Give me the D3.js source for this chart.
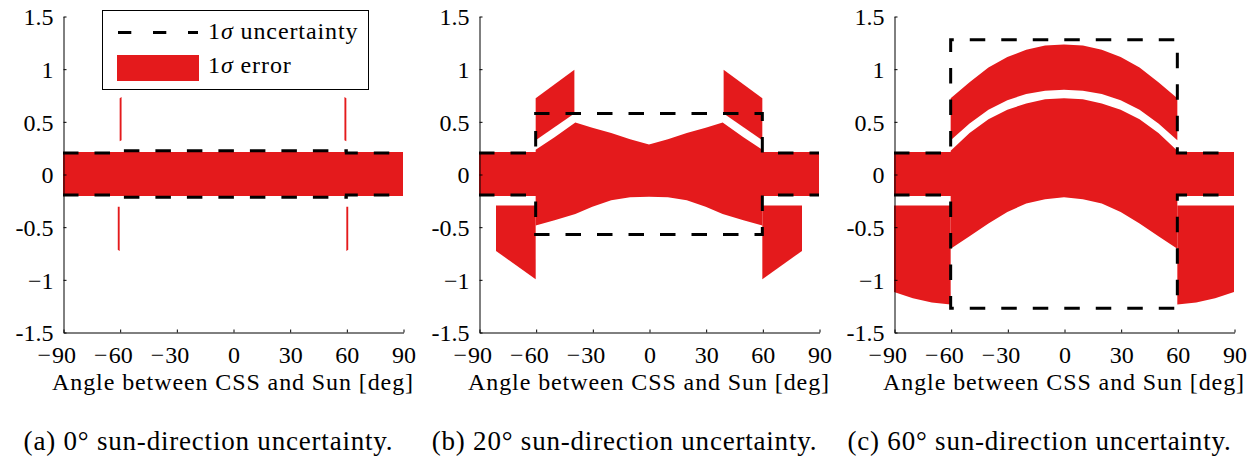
<!DOCTYPE html>
<html><head><meta charset="utf-8">
<script src="https://cdn.jsdelivr.net/npm/d3@7"></script>
</head><body style="margin:0;background:#fff">
<svg id="chart" width="1255" height="457" style="display:block;background:#fff"></svg>
<script>
const FONT = "Liberation Serif";
// ---------- shared ticks / texts ----------
const xTicks = [-90, -60, -30, 0, 30, 60, 90];
const yTicks = [-1.5, -1, -0.5, 0, 0.5, 1, 1.5];
const yTickLabels = ["-1.5", "\u22121", "-0.5", "0", "0.5", "1", "1.5"];
const xTitle = "Angle between CSS and Sun [deg]";
const captions = ["(a) 0\u00B0 sun-direction uncertainty.",
                  "(b) 20\u00B0 sun-direction uncertainty.",
                  "(c) 60\u00B0 sun-direction uncertainty."];
const legendLabels = [" uncertainty", " error"];

// ---------- panel (a): 0 deg ----------
const aUncX  = [-90, -60, -60, 60, 60, 90];
const aUncUp = [0.2, 0.2, 0.22, 0.22, 0.2, 0.2];
const aUncDn = [-0.2, -0.2, -0.22, -0.22, -0.2, -0.2];
const aCoreX  = [-90, 90];
const aCoreHi = [0.21, 0.21];
const aCoreLo = [-0.21, -0.21];
const aUpLX = [-60, -59], aUpLHi = [0.72, 0.73], aUpLLo = [0.31, 0.32];
const aUpRX = [59, 60],   aUpRHi = [0.73, 0.72], aUpRLo = [0.32, 0.31];
const aDnLX = [-61, -60], aDnLHi = [-0.31, -0.31], aDnLLo = [-0.72, -0.73];
const aDnRX = [60, 61],   aDnRHi = [-0.31, -0.31], aDnRLo = [-0.73, -0.72];

// ---------- panel (b): 20 deg ----------
const bUncX  = [-90, -60, -60, 60, 60, 90];
const bUncUp = [0.2, 0.2, 0.575, 0.575, 0.2, 0.2];
const bUncDn = [-0.2, -0.2, -0.575, -0.575, -0.2, -0.2];
const bCoreX  = [-90, -60, -60, -50, -39, -30, -20, -10, 0, 10, 20, 30, 39, 50, 60, 60, 90];
const bCoreHi = [0.21, 0.21, 0.23, 0.35, 0.49, 0.44, 0.39, 0.33, 0.28, 0.33, 0.39, 0.44, 0.49, 0.35, 0.23, 0.21, 0.21];
const bCoreLo = [-0.21, -0.21, -0.49, -0.44, -0.38, -0.31, -0.25, -0.22, -0.215, -0.22, -0.25, -0.31, -0.38, -0.44, -0.49, -0.21, -0.21];
const bUpLX = [-60, -39.5], bUpLHi = [0.72, 0.99], bUpLLo = [0.32, 0.575];
const bUpRX = [39.5, 60],   bUpRHi = [0.99, 0.72], bUpRLo = [0.575, 0.32];
const bDnLX = [-81, -60], bDnLHi = [-0.30, -0.30], bDnLLo = [-0.73, -1.0];
const bDnRX = [60, 81],   bDnRHi = [-0.30, -0.30], bDnRLo = [-1.0, -0.73];

// ---------- panel (c): 60 deg ----------
const cUncX  = [-90, -60, -60, 60, 60, 90];
const cUncUp = [0.2, 0.2, 1.275, 1.275, 0.2, 0.2];
const cUncDn = [-0.2, -0.2, -1.275, -1.275, -0.2, -0.2];
const cCoreX  = [-90, -60, -60, -50, -40, -30, -20, -10, 0, 10, 20, 30, 40, 50, 60, 60, 90];
const cCoreHi = [0.21, 0.21, 0.22, 0.39, 0.52, 0.61, 0.67, 0.71, 0.72, 0.71, 0.67, 0.61, 0.52, 0.39, 0.22, 0.21, 0.21];
const cCoreLo = [-0.21, -0.21, -0.71, -0.59, -0.47, -0.36, -0.28, -0.24, -0.22, -0.24, -0.28, -0.36, -0.47, -0.59, -0.71, -0.21, -0.21];
const cUpX  = [-60, -50, -40, -30, -20, -10, 0, 10, 20, 30, 40, 50, 60];
const cUpHi = [0.72, 0.87, 1.01, 1.11, 1.18, 1.22, 1.23, 1.22, 1.18, 1.11, 1.01, 0.87, 0.72];
const cUpLo = [0.32, 0.48, 0.61, 0.70, 0.76, 0.79, 0.80, 0.79, 0.76, 0.70, 0.61, 0.48, 0.32];
const cDnLX = [-90, -80, -70, -60], cDnLHi = [-0.30, -0.30, -0.30, -0.30], cDnLLo = [-1.12, -1.18, -1.22, -1.24];
const cDnRX = [60, 70, 80, 90],     cDnRHi = [-0.30, -0.30, -0.30, -0.30], cDnRLo = [-1.24, -1.22, -1.18, -1.12];

// ---------- build panel tables ----------
const zipBand = (xs, lo, hi) => xs.map((x, i) => ({x, lo: lo[i], hi: hi[i]}));
const zipLine = (xs, ys) => xs.map((x, i) => ({x, y: ys[i]}));

const panels = [
  { left: 63, caption: captions[0], legend: true,
    bands: [zipBand(aCoreX, aCoreLo, aCoreHi), zipBand(aUpLX, aUpLLo, aUpLHi), zipBand(aUpRX, aUpRLo, aUpRHi),
            zipBand(aDnLX, aDnLLo, aDnLHi), zipBand(aDnRX, aDnRLo, aDnRHi)],
    lines: [zipLine(aUncX, aUncUp), zipLine(aUncX, aUncDn)] },
  { left: 479, caption: captions[1], legend: false,
    bands: [zipBand(bCoreX, bCoreLo, bCoreHi), zipBand(bUpLX, bUpLLo, bUpLHi), zipBand(bUpRX, bUpRLo, bUpRHi),
            zipBand(bDnLX, bDnLLo, bDnLHi), zipBand(bDnRX, bDnRLo, bDnRHi)],
    lines: [zipLine(bUncX, bUncUp), zipLine(bUncX, bUncDn)] },
  { left: 894, caption: captions[2], legend: false,
    bands: [zipBand(cCoreX, cCoreLo, cCoreHi), zipBand(cUpX, cUpLo, cUpHi),
            zipBand(cDnLX, cDnLLo, cDnLHi), zipBand(cDnRX, cDnRLo, cDnRHi)],
    lines: [zipLine(cUncX, cUncUp), zipLine(cUncX, cUncDn)] }
];

// ---------- layout ----------
const RED = "#e41a1c";
const plotW = 340, yTop = 16, yBottom = 332;
const svg = d3.select("#chart").attr("font-family", FONT).style("font-family", FONT);
const txt = (sel, size, ls) => {
  sel.attr("font-family", FONT).style("font-family", FONT)
     .attr("font-size", size).style("font-size", size + "px").attr("fill", "#000");
  if (ls) sel.attr("letter-spacing", ls);
  return sel;
};

panels.forEach(p => {
  const x = d3.scaleLinear().domain([-90, 90]).range([0, plotW]);
  const y = d3.scaleLinear().domain([-1.5, 1.5]).range([yBottom, yTop]);
  const g = svg.append("g").attr("transform", `translate(${p.left},0)`);

  const area = d3.area().x(d => x(d.x)).y0(d => y(d.lo)).y1(d => y(d.hi));
  g.selectAll("path.band").data(p.bands).enter().append("path")
    .attr("class", "band").attr("d", area).attr("fill", RED);

  const line = d3.line().x(d => x(d.x)).y(d => y(d.y));
  g.selectAll("path.unc").data(p.lines).enter().append("path")
    .attr("class", "unc").attr("d", line).attr("fill", "none")
    .attr("stroke", "#000").attr("stroke-width", 3)
    .attr("stroke-dasharray", "15.5,16").attr("stroke-linejoin", "miter");

  // axes
  const gx = g.append("g").attr("transform", `translate(0.5,${yBottom + 0.5})`)
    .call(d3.axisBottom(x).tickValues(xTicks).tickSizeInner(-3).tickSizeOuter(0)
      .tickFormat(d => String(Math.abs(d))));
  const gy = g.append("g").attr("transform", `translate(0.5,0.5)`)
    .call(d3.axisLeft(y).tickValues(yTicks).tickSizeInner(-3).tickSizeOuter(0).tickPadding(10)
      .tickFormat(d => yTickLabels[yTicks.indexOf(d)]));
  [gx, gy].forEach(a => {
    a.attr("font-family", FONT).attr("font-size", 24);
    a.selectAll("path,line").attr("stroke", "#000").attr("stroke-width", 1);
    txt(a.selectAll("text"), 24);
  });
  gx.selectAll(".tick text").attr("y", 30).attr("dy", null);
  gy.selectAll(".tick text").attr("dy", "0.34em");
  gx.selectAll(".tick").filter(d => d < 0).append("text")
    .attr("x", -13).attr("y", 30).attr("text-anchor", "end").text("\u2212")
    .call(s => txt(s, 24));

  // axis title
  txt(g.append("text").attr("x", plotW / 2).attr("y", 390).attr("text-anchor", "middle"), 24, 0.9)
    .text(xTitle);

  // caption
  txt(g.append("text").attr("x", plotW / 2 - 24.5).attr("y", 450).attr("text-anchor", "middle"), 27, 0.8)
    .text(p.caption);

  // legend
  if (p.legend) {
    const lg = svg.append("g");
    lg.append("rect").attr("x", 102.5).attr("y", 10.5).attr("width", 266).attr("height", 79)
      .attr("fill", "#fff").attr("stroke", "#000").attr("stroke-width", 1);
    lg.append("line").attr("x1", 118).attr("x2", 198).attr("y1", 32.5).attr("y2", 32.5)
      .attr("stroke", "#000").attr("stroke-width", 3).attr("stroke-dasharray", "13.3,21.7");
    lg.append("rect").attr("x", 117).attr("y", 55).attr("width", 82).attr("height", 26).attr("fill", RED);
    [38.5, 73].forEach((yy, i) => {
      const t = txt(lg.append("text").attr("x", 208).attr("y", yy), 24, 0.9);
      t.append("tspan").text("1");
      t.append("tspan").attr("font-style", "italic").style("font-style", "italic").text("\u03C3");
      t.append("tspan").text(legendLabels[i]);
    });
  }
});
</script>
</body></html>
